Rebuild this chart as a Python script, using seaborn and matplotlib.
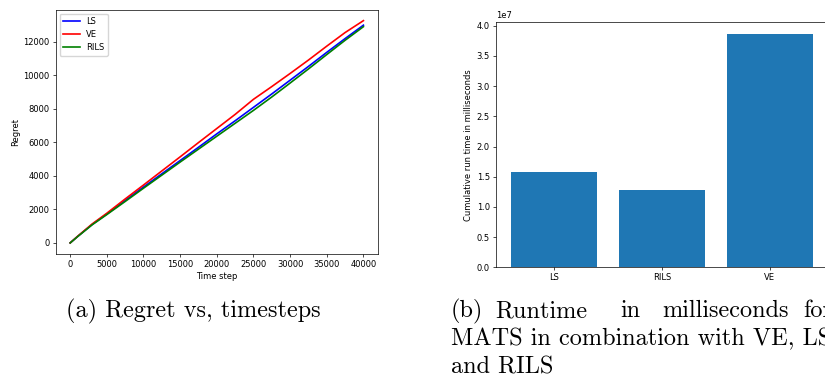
import matplotlib

matplotlib.use("Agg")
import pandas as pd
import seaborn as sns
from matplotlib import pyplot as plt

# Regret curves (left panel)
TIMESTEPS = [0, 1000, 3000, 5000, 7500, 10000, 12500, 15000, 17500, 20000,
             22500, 25000, 27500, 30000, 32500, 35000, 37500, 40000]
REGRET_LS = [0, 380, 1100, 1720, 2530, 3330, 4120, 4910, 5700, 6500,
             7280, 8080, 8880, 9700, 10520, 11360, 12180, 12980]
REGRET_VE = [0, 390, 1130, 1770, 2620, 3450, 4290, 5130, 5980, 6820,
             7660, 8560, 9320, 10100, 10900, 11730, 12540, 13250]
REGRET_RILS = [0, 370, 1080, 1690, 2470, 3260, 4040, 4820, 5590, 6360,
               7130, 7900, 8700, 9530, 10370, 11230, 12080, 12890]
SERIES_NAMES = ["LS", "VE", "RILS"]
SERIES_COLORS = ["blue", "red", "green"]

# Cumulative runtime (right panel)
METHODS = ["LS", "RILS", "VE"]
RUNTIME_MS = [1.58e7, 1.275e7, 3.863e7]

CAPTION_FONT = "cmr10"
CAPTION_SIZE = 17.5


def style_small():
    """Mimic a default matplotlib figure shrunk to ~60 %."""
    plt.rcParams.update({
        "font.size": 6,
        "axes.linewidth": 0.5,
        "axes.labelpad": 2.4,
        "xtick.major.size": 2.1,
        "ytick.major.size": 2.1,
        "xtick.major.width": 0.5,
        "ytick.major.width": 0.5,
        "xtick.major.pad": 2.1,
        "ytick.major.pad": 2.1,
        "legend.fontsize": 6,
    })


def caption(fig, xpx, ypx, text):
    # positions are given in pixels of the 825x381 canvas, text sits on its baseline
    fig.text(xpx / 825, 1 - ypx / 381, text, family=CAPTION_FONT, fontsize=CAPTION_SIZE, va="baseline")


def main():
    style_small()
    fig = plt.figure(figsize=(8.25, 3.81), dpi=100)

    # (a) regret vs timesteps
    ax1 = fig.add_axes([0.0673, 0.3333, 0.391, 0.6417])
    regret = [REGRET_LS, REGRET_VE, REGRET_RILS]
    for name, color, values in zip(SERIES_NAMES, SERIES_COLORS, regret):
        df = pd.DataFrame({"t": TIMESTEPS, "regret": values})
        sns.lineplot(data=df, x="t", y="regret", color=color, label=name, linewidth=1.2, ax=ax1)
    ax1.set_xlabel("Time step")
    ax1.set_ylabel("Regret")
    ax1.set_xticks(range(0, 40001, 5000))
    ax1.legend(loc="upper left", handlelength=2.0)

    # (b) runtime bars
    ax2 = fig.add_axes([0.6008, 0.2984, 0.4028, 0.643])
    sns.barplot(x=METHODS, y=RUNTIME_MS, color="#1f77b4", saturation=1, width=0.8, linewidth=0, ax=ax2)
    ax2.set_xlim(-0.54, 2.54)
    ax2.set_ylim(0, 4.056e7)
    ax2.set_ylabel("Cumulative run time in milliseconds")

    # captions, set like the LaTeX document around the plots (line 1 of (b) is justified)
    caption(fig, 66, 317, "(a) Regret vs, timesteps")
    for word, xpx in zip(["(b)", "Runtime", "in", "milliseconds", "for"], [451, 495, 620, 662, 803]):
        caption(fig, xpx, 317, word)
    caption(fig, 451, 345, "MATS in combination with VE, LS")
    caption(fig, 451, 373, "and RILS")

    fig.savefig("out.png", dpi=100)
    plt.close(fig)


if __name__ == "__main__":

    main()
